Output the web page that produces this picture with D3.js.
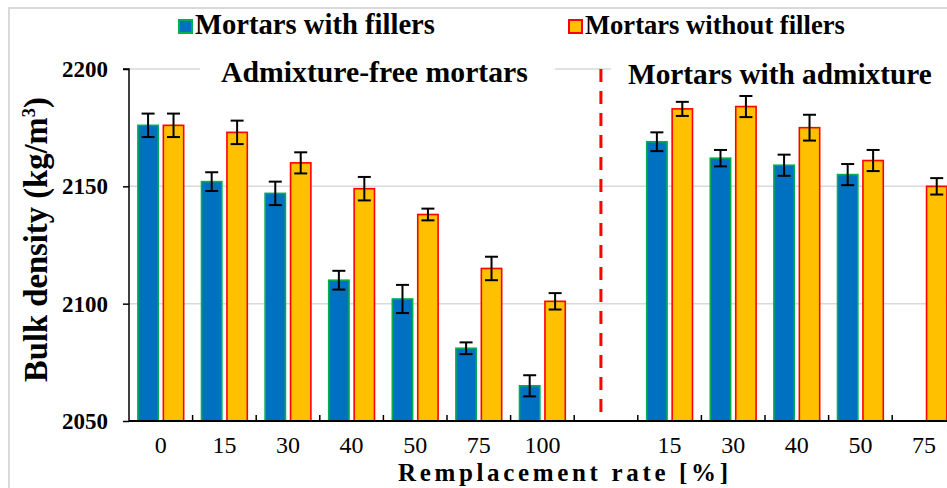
<!DOCTYPE html>
<html><head><meta charset="utf-8">
<script src="https://cdn.jsdelivr.net/npm/d3@7"></script>
<style>
html,body{margin:0;padding:0;background:#fff;}
</style></head>
<body><svg id="c" width="947" height="488"></svg>
<script>
const categories = ["0","15","30","40","50","75","100","","15","30","40","50","75"];
const withFillers = [2176,2152,2147,2110,2102,2081,2065,null,2169,2162,2159,2155,null];
const withFillersErr = [5,4,5,4,6,2.5,4.5,null,4,3.5,4.5,4.5,null];
const withoutFillers = [2176,2173,2160,2149,2138,2115,2101,null,2183,2184,2175,2161,2150];
const withoutFillersErr = [5,5,4.5,5,2.5,5,3.5,null,3,4.5,5.5,4.5,3.5];
const yTicks = [2050,2100,2150,2200];
const seriesNames = ["Mortars with fillers","Mortars without fillers"];
const groupLabels = ["Admixture-free mortars","Mortars with admixture"];
const xTitle = "Remplacement rate [%]";
const yTitle = "Bulk density (kg/m";

(function(){
const FONT = "Liberation Serif";
const svg = d3.select("#c").attr("font-family", FONT);
const W = 947, H = 488;
const mLeft = 129, mTop = 69, mBottom = 421;
const slotStep = 63.6;
const keys = categories.map((c,i)=>i);
const x = d3.scaleBand().domain(keys).range([mLeft, mLeft + slotStep*categories.length]).padding(0);
const inner = d3.scaleBand().domain([0,1]).range([0, x.bandwidth()]).paddingInner(0.2).paddingOuter(0.35);
const y = d3.scaleLinear().domain([2050,2200]).range([mBottom, mTop]);

svg.append("rect").attr("x",0).attr("y",0).attr("width",W).attr("height",H).attr("fill","#fff");
svg.append("rect").attr("x",9).attr("y",8).attr("width",W+20).attr("height",H+20)
  .attr("fill","none").attr("stroke","#d9d9d9").attr("stroke-width",2);

svg.append("g").selectAll("line").data(yTicks.filter(t=>t>2050)).join("line")
  .attr("x1",mLeft).attr("x2",W).attr("y1",d=>y(d)).attr("y2",d=>y(d))
  .attr("stroke","#d9d9d9").attr("stroke-width",1.5);

const colors = [{fill:"#0070C0",stroke:"#00B050"},{fill:"#FFC000",stroke:"#FF0000"}];
const series = [{v:withFillers,e:withFillersErr},{v:withoutFillers,e:withoutFillersErr}];
series.forEach((s,si)=>{
  const data = keys.filter(i=>s.v[i]!=null).map(i=>({i, v:s.v[i], e:s.e[i]}));
  const g = svg.append("g");
  g.selectAll("rect").data(data).join("rect")
    .attr("x",d=>x(d.i)+inner(si)).attr("width",inner.bandwidth())
    .attr("y",d=>y(d.v)).attr("height",d=>mBottom-y(d.v))
    .attr("fill",colors[si].fill).attr("stroke",colors[si].stroke).attr("stroke-width",1.6);
  const eg = svg.append("g").attr("stroke","#000").attr("stroke-width",2);
  data.forEach(d=>{
    const cx = x(d.i)+inner(si)+inner.bandwidth()/2;
    eg.append("line").attr("x1",cx).attr("x2",cx).attr("y1",y(d.v+d.e)).attr("y2",y(d.v-d.e));
    eg.append("line").attr("x1",cx-6.5).attr("x2",cx+6.5).attr("y1",y(d.v+d.e)).attr("y2",y(d.v+d.e));
    eg.append("line").attr("x1",cx-6.5).attr("x2",cx+6.5).attr("y1",y(d.v-d.e)).attr("y2",y(d.v-d.e));
  });
});

const sepX = x(7) + x.step()*0.42;
svg.append("line").attr("x1",sepX).attr("x2",sepX).attr("y1",y(2200)).attr("y2",mBottom)
  .attr("stroke","#FF0000").attr("stroke-width",3).attr("stroke-dasharray","13,9");

const yAxis = d3.axisLeft(y).tickValues(yTicks).tickSize(6).tickFormat(d3.format("d"));
const ya = svg.append("g").attr("transform",`translate(${mLeft},0)`).call(yAxis).attr("font-family",FONT);
ya.select(".domain").attr("stroke","#000").attr("stroke-width",1.5).attr("d",`M-6,${mTop}H0V${mBottom}`);
ya.selectAll(".tick line").attr("stroke","#000").attr("stroke-width",1.5);
ya.selectAll(".tick text").attr("x",-21).attr("font-size",23).attr("font-weight","bold")
  .attr("fill","#000").attr("dy","0.33em");

svg.append("line").attr("x1",mLeft).attr("x2",W).attr("y1",mBottom).attr("y2",mBottom)
  .attr("stroke","#000").attr("stroke-width",2);
svg.append("g").selectAll("line").data(keys.slice(1)).join("line")
  .attr("x1",d=>x(d)).attr("x2",d=>x(d)).attr("y1",mBottom).attr("y2",mBottom-6)
  .attr("stroke","#000").attr("stroke-width",1.5);
svg.append("g").selectAll("text").data(keys.filter(i=>categories[i]!=="")).join("text")
  .attr("x",i=>x(i)+x.bandwidth()/2).attr("y",453).attr("text-anchor","middle")
  .attr("font-size",24).attr("fill","#000").text(i=>categories[i]);

function fit(sel, target){
  const w = sel.node().getComputedTextLength();
  const fs = parseFloat(sel.attr("font-size"));
  sel.attr("font-size", fs*target/w);
  return fs*target/w;
}

svg.append("rect").attr("x",200).attr("y",y(2200)-3).attr("width",355).attr("height",6).attr("fill","#fff");
svg.append("rect").attr("x",611).attr("y",y(2200)-3).attr("width",W-611).attr("height",6).attr("fill","#fff");
const gl1 = svg.append("text").attr("x",221).attr("y",82).attr("font-size",24).attr("font-weight","bold").attr("fill","#000").text(groupLabels[0]);
fit(gl1,307);
const gl2 = svg.append("text").attr("x",628).attr("y",84).attr("font-size",24).attr("font-weight","bold").attr("fill","#000").text(groupLabels[1]);
fit(gl2,304);

const leg = [{sx:179, tx:195, w:240},{sx:569, tx:585, w:260}];
leg.forEach((l,i)=>{
  svg.append("rect").attr("x",l.sx).attr("y",20).attr("width",13).attr("height",13)
    .attr("fill",colors[i].fill).attr("stroke",colors[i].stroke).attr("stroke-width",2);
  const t = svg.append("text").attr("x",l.tx).attr("y",34).attr("font-size",24).attr("font-weight","bold").attr("fill","#000").text(seriesNames[i]);
  fit(t,l.w);
});

svg.append("text").attr("x",398).attr("y",481).attr("font-size",25).attr("font-weight","bold")
  .attr("fill","#000").attr("textLength",330).attr("lengthAdjust","spacing").text(xTitle);

const yt = svg.append("text").attr("transform","translate(47,382) rotate(-90)")
  .attr("font-size",30).attr("font-weight","bold").attr("fill","#000");
yt.append("tspan").text(yTitle);
const sup = yt.append("tspan").attr("font-size",17).attr("dy",-11).text("3");
const close = yt.append("tspan").attr("dy",11).text(")");
const w0 = yt.node().getComputedTextLength();
const k = 285 / w0;
yt.attr("font-size", 30*k);
sup.attr("font-size", 17*k).attr("dy", -11*k);
close.attr("dy", 11*k);
})();
</script></body></html>
